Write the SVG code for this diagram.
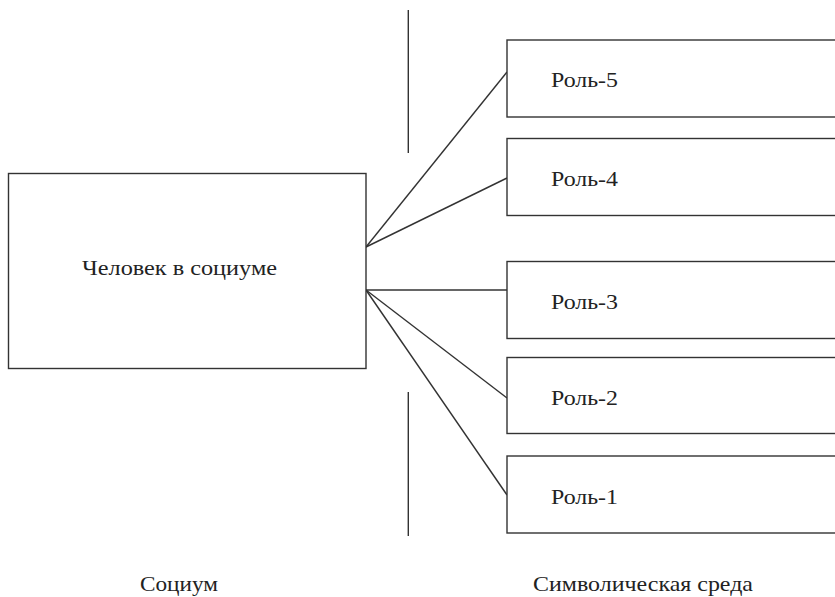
<svg xmlns="http://www.w3.org/2000/svg" width="835" height="597" viewBox="0 0 835 597">
<style>
.box{fill:#fff;stroke:#333;stroke-width:1.4}
.ln{stroke:#333;stroke-width:1.4;fill:none}
.t{font-family:'Liberation Serif','Times New Roman','DejaVu Serif',serif;font-size:21px;fill:#222}
</style>
<rect width="835" height="597" fill="#fff"/>
<g id="connectors">
<line class="ln" x1="366" y1="247" x2="507" y2="72"/>
<line class="ln" x1="366" y1="247" x2="507" y2="178"/>
<line class="ln" x1="366" y1="290" x2="507" y2="290"/>
<line class="ln" x1="366" y1="290" x2="507" y2="398"/>
<line class="ln" x1="366" y1="290" x2="507" y2="495"/>
</g>
<g id="dividers">
<line class="ln" x1="408.3" y1="10" x2="408.3" y2="153"/>
<line class="ln" x1="408.3" y1="392" x2="408.3" y2="536"/>
</g>
<g id="main">
<rect class="box" x="8.5" y="173.5" width="357.5" height="195"/>
<text class="t" x="82" y="275" textLength="195" lengthAdjust="spacingAndGlyphs">Человек в социуме</text>
</g>
<g id="role5">
<rect class="box" x="507" y="40" width="340" height="77"/>
<text class="t" x="551" y="87" textLength="67" lengthAdjust="spacingAndGlyphs">Роль-5</text>
</g>
<g id="role4">
<rect class="box" x="507" y="138.5" width="340" height="77"/>
<text class="t" x="551" y="186" textLength="67" lengthAdjust="spacingAndGlyphs">Роль-4</text>
</g>
<g id="role3">
<rect class="box" x="507" y="261.5" width="340" height="77"/>
<text class="t" x="551" y="309" textLength="67" lengthAdjust="spacingAndGlyphs">Роль-3</text>
</g>
<g id="role2">
<rect class="box" x="507" y="357.5" width="340" height="76"/>
<text class="t" x="551" y="405" textLength="67" lengthAdjust="spacingAndGlyphs">Роль-2</text>
</g>
<g id="role1">
<rect class="box" x="507" y="456" width="340" height="77"/>
<text class="t" x="551" y="504" textLength="67" lengthAdjust="spacingAndGlyphs">Роль-1</text>
</g>
<g id="labels">
<text class="t" x="140" y="591" textLength="78" lengthAdjust="spacingAndGlyphs">Социум</text>
<text class="t" x="533" y="591" textLength="220" lengthAdjust="spacingAndGlyphs">Символическая среда</text>
</g>
</svg>
